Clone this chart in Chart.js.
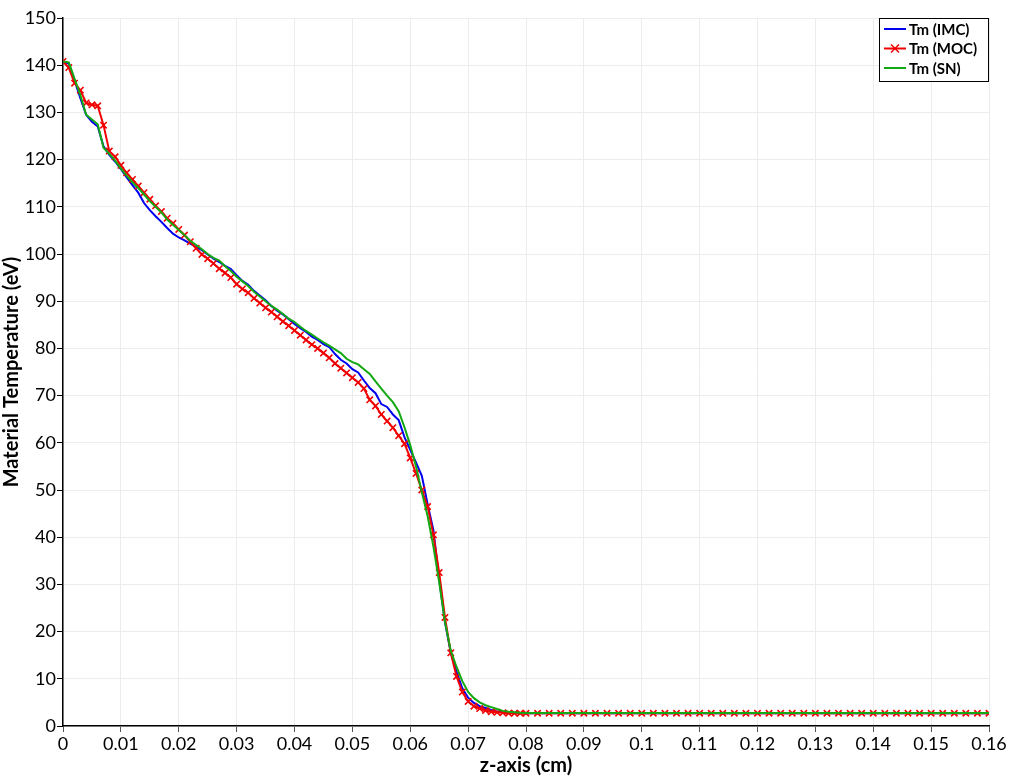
<!DOCTYPE html>
<html>
<head>
<meta charset="utf-8">
<script src="https://cdn.jsdelivr.net/npm/chart.js@4.4.1/dist/chart.umd.min.js"></script>
<style>
  html, body { margin: 0; padding: 0; background: #fff; }
  #wrap { position: relative; width: 1009px; height: 778px; }
</style>
</head>
<body>
<div id="wrap"><canvas id="tempPlot" width="1009" height="778"></canvas></div>
<script>
// z positions (cm)
const zValues = [
  0.000, 0.001, 0.002, 0.003, 0.004, 0.005, 0.006, 0.007, 0.008, 0.009,
  0.010, 0.011, 0.012, 0.013, 0.014, 0.015, 0.016, 0.017, 0.018, 0.019,
  0.020, 0.021, 0.022, 0.023, 0.024, 0.025, 0.026, 0.027, 0.028, 0.029,
  0.030, 0.031, 0.032, 0.033, 0.034, 0.035, 0.036, 0.037, 0.038, 0.039,
  0.040, 0.041, 0.042, 0.043, 0.044, 0.045, 0.046, 0.047, 0.048, 0.049,
  0.050, 0.051, 0.052, 0.053, 0.054, 0.055, 0.056, 0.057, 0.058, 0.059,
  0.060, 0.061, 0.062, 0.063, 0.064, 0.065, 0.066, 0.067, 0.068, 0.069,
  0.070, 0.071, 0.072, 0.073, 0.074, 0.075, 0.076, 0.077, 0.078, 0.079,
  0.080, 0.082, 0.084, 0.086, 0.088, 0.090, 0.092, 0.094, 0.096, 0.098,
  0.100, 0.102, 0.104, 0.106, 0.108, 0.110, 0.112, 0.114, 0.116, 0.118,
  0.120, 0.122, 0.124, 0.126, 0.128, 0.130, 0.132, 0.134, 0.136, 0.138,
  0.140, 0.142, 0.144, 0.146, 0.148, 0.150, 0.152, 0.154, 0.156, 0.158,
  0.160
];

// Tm (IMC)
const tmIMC = [
  140.6, 140.4, 136.8, 133.0, 129.5, 128.0, 127.0, 122.8, 121.0, 119.6,
  118.0, 116.2, 114.6, 113.0, 110.8, 109.3, 108.0, 106.8, 105.5, 104.3,
  103.5, 102.9, 102.2, 101.5, 100.8, 99.9, 99.0, 98.3, 97.5, 96.8,
  95.5, 94.3, 93.5, 92.2, 91.2, 90.2, 89.0, 88.0, 87.2, 86.2,
  85.2, 84.3, 83.5, 82.5, 81.8, 80.9, 80.3, 78.8, 77.6, 76.8,
  75.6, 74.9, 73.2, 71.6, 70.5, 68.2, 67.6, 66.0, 64.8, 61.2,
  58.5, 55.8, 53.0, 47.0, 41.5, 31.0, 22.0, 15.5, 11.5, 8.0,
  6.0, 4.9, 4.2, 3.8, 3.4, 3.1, 2.9, 2.8, 2.75, 2.7,
  2.7, 2.7, 2.7, 2.7, 2.7, 2.7, 2.7, 2.7, 2.7, 2.7,
  2.7, 2.7, 2.7, 2.7, 2.7, 2.7, 2.7, 2.7, 2.7, 2.7,
  2.7, 2.7, 2.7, 2.7, 2.7, 2.7, 2.7, 2.7, 2.7, 2.7,
  2.7, 2.7, 2.7, 2.7, 2.7, 2.7, 2.7, 2.7, 2.7, 2.7,
  2.7
];

// Tm (MOC)
const tmMOC = [
  140.8, 139.5, 136.2, 134.7, 132.0, 131.6, 131.4, 127.3, 121.8, 120.6,
  118.8, 117.2, 115.8, 114.4, 113.0, 111.6, 110.2, 109.0, 107.6, 106.5,
  105.2, 104.0, 102.6, 101.2, 99.9, 99.0, 98.0, 96.9, 96.0, 95.0,
  93.6, 92.6, 91.8, 90.6, 89.6, 88.6, 87.7, 86.7, 85.7, 84.8,
  83.8, 82.8, 81.8, 80.8, 80.0, 79.0, 78.0, 76.8, 75.8, 74.8,
  73.8, 72.8, 71.5, 69.1, 67.8, 66.0, 64.6, 63.2, 61.5, 59.8,
  56.8, 53.5, 50.0, 46.5, 40.5, 32.5, 23.0, 15.5, 10.5, 7.2,
  5.2, 4.2, 3.7, 3.3, 3.0, 2.9, 2.8, 2.7, 2.7, 2.7,
  2.7, 2.7, 2.7, 2.7, 2.7, 2.7, 2.7, 2.7, 2.7, 2.7,
  2.7, 2.7, 2.7, 2.7, 2.7, 2.7, 2.7, 2.7, 2.7, 2.7,
  2.7, 2.7, 2.7, 2.7, 2.7, 2.7, 2.7, 2.7, 2.7, 2.7,
  2.7, 2.7, 2.7, 2.7, 2.7, 2.7, 2.7, 2.7, 2.7, 2.7,
  2.7
];

// Tm (SN)
const tmSN = [
  140.8, 140.6, 137.1, 133.7, 129.5, 128.5, 127.5, 122.5, 121.2, 119.8,
  118.1, 116.6, 115.2, 114.0, 112.6, 111.2, 110.0, 108.8, 107.3, 106.2,
  105.1, 104.0, 102.8, 101.9, 101.0, 100.0, 99.2, 98.6, 97.4, 96.4,
  95.2, 94.2, 93.2, 92.0, 91.0, 90.0, 89.0, 88.2, 87.3, 86.3,
  85.6, 84.6, 83.7, 82.9, 82.1, 81.3, 80.6, 79.8, 79.0, 77.8,
  77.1, 76.6, 75.6, 74.6, 73.0, 71.5, 70.0, 68.6, 66.7, 63.3,
  59.5, 55.0, 49.5, 44.5, 38.0, 30.5, 22.0, 16.0, 12.5, 9.5,
  7.2, 5.9, 5.0, 4.4, 4.0, 3.6, 3.2, 3.0, 2.9, 2.8,
  2.75, 2.75, 2.75, 2.75, 2.75, 2.75, 2.75, 2.75, 2.75, 2.75,
  2.75, 2.75, 2.75, 2.75, 2.75, 2.75, 2.75, 2.75, 2.75, 2.75,
  2.75, 2.75, 2.75, 2.75, 2.75, 2.75, 2.75, 2.75, 2.75, 2.75,
  2.75, 2.75, 2.75, 2.75, 2.75, 2.75, 2.75, 2.75, 2.75, 2.75,
  2.75
];

const seriesLabels = ['Tm (IMC)', 'Tm (MOC)', 'Tm (SN)'];
const seriesColors = ['#0000f0', '#f00000', '#12a812'];

const FONT = 'Lato, "Open Sans", sans-serif';

function toPoints(ys) {
    return ys.map(function(y, i) { return { x: zValues[i], y: y }; });
}

// Boxed legend in the top-right corner of the plot area
const boxLegendPlugin = {
    id: 'boxLegend',
    afterDraw: function(chart) {
        const ctx = chart.ctx;
        const area = chart.chartArea;
        const w = 110, h = 64;
        const x0 = area.right - w, y0 = area.top;
        ctx.save();
        ctx.fillStyle = '#fff';
        ctx.fillRect(x0, y0, w, h);
        ctx.strokeStyle = '#000';
        ctx.lineWidth = 1;
        ctx.strokeRect(x0 + 0.5, y0 + 0.5, w - 1, h - 1);
        ctx.font = 'bold 15px ' + FONT;
        ctx.textBaseline = 'middle';
        chart.data.datasets.forEach(function(ds, i) {
            const y = y0 + 11 + i * 19.5;
            ctx.strokeStyle = ds.borderColor;
            ctx.lineWidth = 2;
            ctx.beginPath();
            ctx.moveTo(x0 + 5, y);
            ctx.lineTo(x0 + 27, y);
            ctx.stroke();
            if (ds.pointRadius > 0) {
                ctx.lineWidth = 1.5;
                ctx.beginPath();
                ctx.moveTo(x0 + 12, y - 4); ctx.lineTo(x0 + 20, y + 4);
                ctx.moveTo(x0 + 20, y - 4); ctx.lineTo(x0 + 12, y + 4);
                ctx.stroke();
            }
            ctx.fillStyle = '#000';
            ctx.fillText(ds.label, x0 + 30, y + 1);
        });
        ctx.restore();
    }
};

const ctx = document.getElementById('tempPlot').getContext('2d');

const tempChart = new Chart(ctx, {
    type: 'line',
    data: {
        datasets: [
            {
                label: seriesLabels[0],
                data: toPoints(tmIMC),
                borderColor: seriesColors[0],
                backgroundColor: seriesColors[0],
                borderWidth: 2,
                pointRadius: 0,
                order: 3
            },
            {
                label: seriesLabels[1],
                data: toPoints(tmMOC),
                borderColor: seriesColors[1],
                backgroundColor: seriesColors[1],
                borderWidth: 2,
                pointStyle: 'crossRot',
                pointRadius: 4.5,
                pointBorderWidth: 1.6,
                pointBorderColor: seriesColors[1],
                order: 2
            },
            {
                label: seriesLabels[2],
                data: toPoints(tmSN),
                borderColor: seriesColors[2],
                backgroundColor: seriesColors[2],
                borderWidth: 2,
                pointRadius: 0,
                order: 1
            }
        ]
    },
    options: {
        responsive: false,
        animation: false,
        layout: { padding: { top: 18, right: 20, left: 0, bottom: 0 } },
        plugins: {
            legend: { display: false },
            tooltip: { enabled: false }
        },
        scales: {
            x: {
                type: 'linear',
                min: 0,
                max: 0.16,
                afterFit: function(scale) { scale.height = 52; },
                title: {
                    display: true,
                    text: 'z-axis (cm)',
                    color: '#000',
                    font: { family: FONT, size: 20, weight: 'bold' },
                    padding: { top: 0, bottom: 0 }
                },
                ticks: {
                    stepSize: 0.01,
                    color: '#000',
                    padding: 1,
                    maxRotation: 0,
                    autoSkip: false,
                    font: { family: FONT, size: 18 },
                    callback: function(value) { return String(+value.toFixed(2)); }
                },
                grid: { color: '#ececec', tickColor: '#555', tickLength: 6 },
                border: { color: '#000', width: 1.5 }
            },
            y: {
                min: 0,
                max: 150,
                afterFit: function(scale) { scale.width = 63; },
                title: {
                    display: true,
                    text: 'Material Temperature (eV)',
                    color: '#000',
                    font: { family: FONT, size: 20, weight: 'bold' },
                    padding: { top: 0, bottom: 0 }
                },
                ticks: {
                    stepSize: 10,
                    color: '#000',
                    padding: 1,
                    font: { family: FONT, size: 18 }
                },
                grid: { color: '#ececec', tickColor: '#000', tickLength: 6 },
                border: { color: '#000', width: 1.5 }
            }
        }
    },
    plugins: [boxLegendPlugin]
});
</script>
</body>
</html>
